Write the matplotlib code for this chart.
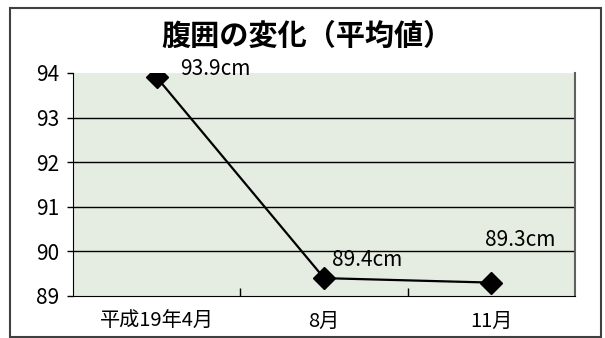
import matplotlib
matplotlib.use("Agg")
import matplotlib.pyplot as plt
from matplotlib.patches import Rectangle

plt.rcParams['font.family'] = ['Noto Sans CJK JP', 'DejaVu Sans']

# data
categories = ['平成19年4月', '8月', '11月']
values = [93.9, 89.4, 89.3]
labels = ['93.9cm', '89.4cm', '89.3cm']
label_offsets = [(17, 6), (31, 13), (21, 31)]  # points

fig = plt.figure(figsize=(6.05, 3.38), dpi=100)
fig.patch.set_facecolor('white')

# outer chart frame
fig.patches.append(Rectangle((0.0165, 0.003), 0.977, 0.973, transform=fig.transFigure,
                             fill=False, edgecolor='#404040', linewidth=1.5))

ax = fig.add_axes([0.1207, 0.1243, 0.830, 0.660])
ax.set_facecolor('#E5ECE1')

x = list(range(len(categories)))
ax.plot(x, values, color='black', linewidth=1.6, marker='D', markersize=11,
        markerfacecolor='black', markeredgecolor='black', zorder=3)

for xi, v, lab, off in zip(x, values, labels, label_offsets):
    ax.annotate(lab, (xi, v), xytext=off, textcoords='offset points',
                ha='left' if xi == 0 else 'center', va='center', fontsize=15)

ax.set_xlim(-0.5, 2.5)
ax.set_ylim(89, 94)
ax.set_yticks([89, 90, 91, 92, 93, 94])
ax.set_yticklabels(['89', '90', '91', '92', '93', '94'], fontsize=15)
ax.set_xticks(x)
ax.set_xticklabels(categories, fontsize=14.5)
ax.tick_params(axis='x', length=0, pad=11)
ax.set_xticks([0.5, 1.5], minor=True)
ax.tick_params(axis='x', which='minor', direction='in', length=6, width=1)
ax.tick_params(axis='y', direction='out', length=4, width=1, pad=6)

for yv in [90, 91, 92, 93]:
    ax.axhline(yv, color='black', linewidth=1, zorder=1)

ax.spines['top'].set_visible(False)
ax.spines['left'].set_color('black')
ax.spines['bottom'].set_color('black')
ax.spines['right'].set_color('#606060')
ax.spines['right'].set_linewidth(1.5)

fig.text(0.507, 0.895, '腹囲の変化（平均値）', ha='center', va='center',
         fontsize=21, fontweight='bold')

fig.savefig('out.png', dpi=100)
